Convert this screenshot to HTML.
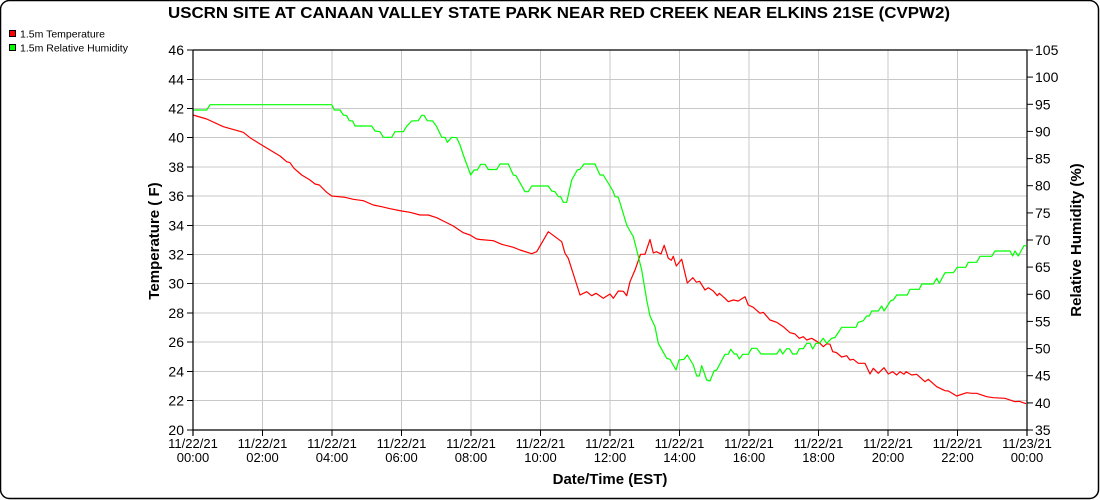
<!DOCTYPE html>
<html><head><meta charset="utf-8"><style>
html,body{margin:0;padding:0;background:#fff;}
svg{display:block;font-family:"Liberation Sans",Arial,sans-serif;}
</style></head><body>
<svg width="1100" height="500" viewBox="0 0 1100 500" xmlns="http://www.w3.org/2000/svg">
<rect x="0.5" y="0.5" width="1098" height="498" rx="9" ry="9" fill="#fff" stroke="#000" stroke-width="1.5"/>
<text x="559" y="18" font-size="16" font-weight="bold" text-anchor="middle" textLength="782" lengthAdjust="spacingAndGlyphs">USCRN SITE AT CANAAN VALLEY STATE PARK NEAR RED CREEK NEAR ELKINS 21SE (CVPW2)</text>
<rect x="9.5" y="30.5" width="6" height="6" fill="#ff0000" stroke="#000" stroke-width="1"/>
<text x="20" y="37.5" font-size="10.5">1.5m Temperature</text>
<rect x="9.5" y="44.5" width="6" height="6" fill="#00ff00" stroke="#000" stroke-width="1"/>
<text x="20" y="51.5" font-size="10.5">1.5m Relative Humidity</text>
<g stroke="#c8c8c8" stroke-width="1">
<line x1="262.5" y1="50" x2="262.5" y2="430"/><line x1="332" y1="50" x2="332" y2="430"/><line x1="401.5" y1="50" x2="401.5" y2="430"/><line x1="471" y1="50" x2="471" y2="430"/><line x1="540.5" y1="50" x2="540.5" y2="430"/><line x1="610" y1="50" x2="610" y2="430"/><line x1="679.5" y1="50" x2="679.5" y2="430"/><line x1="749" y1="50" x2="749" y2="430"/><line x1="818.5" y1="50" x2="818.5" y2="430"/><line x1="888" y1="50" x2="888" y2="430"/><line x1="957.5" y1="50" x2="957.5" y2="430"/>
<line x1="193" y1="79.5" x2="1027" y2="79.5"/><line x1="193" y1="108.5" x2="1027" y2="108.5"/><line x1="193" y1="137.5" x2="1027" y2="137.5"/><line x1="193" y1="167" x2="1027" y2="167"/><line x1="193" y1="196" x2="1027" y2="196"/><line x1="193" y1="225.5" x2="1027" y2="225.5"/><line x1="193" y1="254.5" x2="1027" y2="254.5"/><line x1="193" y1="283.5" x2="1027" y2="283.5"/><line x1="193" y1="313" x2="1027" y2="313"/><line x1="193" y1="342" x2="1027" y2="342"/><line x1="193" y1="371.5" x2="1027" y2="371.5"/><line x1="193" y1="400.5" x2="1027" y2="400.5"/>
</g>
<polyline fill="none" stroke="#ff0000" stroke-width="1.2" stroke-linejoin="round" points="193,115 206.7,119 223.3,126.7 243.3,132.3 250,137.7 261.7,145 270,150 280,156 286.7,161.7 290,162.7 294,168.3 301.7,175 310,180 315,184 319.3,185 326.7,192.3 331.7,196 345,197.3 353.3,199.3 363.3,200.7 373.3,205 381.7,206.7 390,208.7 401.7,211 410,212.3 420,215 428.3,215 436.7,217.7 443.3,221 453.3,226 463.3,232.7 470,235 476.7,239 480,239.5 493.3,240.7 501.7,244.3 513.3,247.3 520,250 531.7,253.7 536.7,251.7 548.3,231.7 561.7,241.7 565,253.3 568.3,258.3 580,295 586.7,291.7 591.7,295.7 596,293.3 603.3,298.3 610,294 613.3,298.3 618.3,291 623.3,291.3 626.7,295.7 630,281.7 635,270 640.5,254.3 645,254.3 650,239.5 653.3,253 656.5,251.7 661,254 664.2,245.3 668.3,258.3 671.3,260.3 673.3,256.3 676.3,266 681.7,259.2 687.3,283 692.9,277.7 696.3,282.2 699.6,281.3 705,290 708.3,287.7 713.3,291 717.3,295.7 719.3,293.3 725,298.3 728.3,301.7 733.3,300 738.3,301 745,296.7 748.3,305 753.3,307.3 760,313.3 763.3,312.3 770,320 776.7,322.3 783.3,326.7 790,332.7 795,334 799.3,338.3 803.3,336.7 806.7,340 811.7,338.3 820,343.3 823.3,346.7 826.7,343.8 830,344.2 832.7,351.7 836.3,352.5 841.7,357 846.7,355.7 850,360 853.3,359.3 858.3,363.3 865,363.3 870,374 873.3,368.3 878.3,373.3 884,367.7 888.3,374 892.7,371.7 896.7,375 900,371.7 904,374.3 906,371.7 911.7,375 916.7,374.3 925,381.7 928.3,379.3 936.7,386.7 945,390.7 948.3,391 956.7,396 966.7,392.7 971.7,393.3 976.7,393.3 986.7,396.7 993.3,397.7 1005,398.3 1015,401.7 1019.3,401.3 1026,403.7"/>
<polyline fill="none" stroke="#00ff00" stroke-width="1.2" stroke-linejoin="round" points="193,110 206.7,110 210,104.7 331.7,104.7 334.3,110 340,110 343.3,115 346.7,115.7 349.3,120.7 352.7,121 355,126 371.7,126 375,131 380,131.7 383.3,137.3 391.7,137.3 395,131.7 403.3,131.7 406.7,126.3 411.7,121 418.3,120.7 421.7,115.3 424,115.3 427.3,120.7 432.7,121 436.7,126.7 441.7,137.3 445,137.3 447.3,142.3 451.7,137.3 456.7,137.7 460,145 463.3,155 470.7,175 474,170 477.3,170 480.7,164.3 485,164.3 488.3,169.5 496.7,169.5 500,164 508.3,164 513.3,175 516,175.7 525,191.7 528.3,191.7 531.7,186 548.3,186 551.7,191 555,191.7 558.3,196.7 560.7,196.7 563.3,202.3 566.7,202.3 571.7,180 577.3,170 580,169.3 584,164 595,164 600,175 603.3,175 610,186 613.3,191.7 615,196.7 618.3,197.3 621.7,208.3 626.7,225 630,231 633.3,236.7 636.7,250 641.7,270 646.7,300 650,316 655,326.7 658.3,343.3 666.7,358.3 670,359.3 676,370 679,360 684,359.3 687.3,355 693.3,365 696.7,376 699.3,376 701.7,365.7 706.7,380 710,381 714,371 716.7,370 725,354.3 728.3,354.3 730.7,349.3 734.3,354 736.7,354 739.3,359 742.7,354.3 748.3,354.3 751.7,348.3 756.7,348.3 761,354 776.7,354 780,349 782.7,354 786.7,348.7 789.3,348.7 792.7,354 796.7,354 799.3,348.7 803.3,348.7 806.7,343.3 810,343.3 812.7,349 816,343.3 819.3,343.3 823.3,338.3 826.7,343.3 831.7,338.3 835,337.5 841.7,327.3 856,327.3 858.3,322.3 863.3,320.7 866.7,316 869.3,316 871.7,311 878.3,311 881.7,306 884,311 887.3,306 890.7,300.7 893.3,300 896.7,295 907.3,295 910,289.3 919.3,289.3 921.7,284 933.3,284 936.7,278.3 939.3,283.3 945,272.7 953.3,272.7 957.3,267.3 965.7,267.3 968.3,262.3 976.7,262.3 980,256.3 991.7,256.3 995,251 1010,251 1012.7,256 1015,251 1018.3,256 1021,251 1024,245.7 1026,245.7"/>
<g stroke="#000" stroke-width="1.2" fill="none">
<line x1="193" y1="50" x2="1027" y2="50"/>
<line x1="193" y1="430" x2="1027" y2="430"/>
<line x1="193" y1="50" x2="193" y2="436"/>
<line x1="1027" y1="50" x2="1027" y2="436"/>
</g>
<g stroke="#000" stroke-width="1">
<line x1="187" y1="50" x2="193" y2="50"/><line x1="187" y1="79.5" x2="193" y2="79.5"/><line x1="187" y1="108.5" x2="193" y2="108.5"/><line x1="187" y1="137.5" x2="193" y2="137.5"/><line x1="187" y1="167" x2="193" y2="167"/><line x1="187" y1="196" x2="193" y2="196"/><line x1="187" y1="225.5" x2="193" y2="225.5"/><line x1="187" y1="254.5" x2="193" y2="254.5"/><line x1="187" y1="283.5" x2="193" y2="283.5"/><line x1="187" y1="313" x2="193" y2="313"/><line x1="187" y1="342" x2="193" y2="342"/><line x1="187" y1="371.5" x2="193" y2="371.5"/><line x1="187" y1="400.5" x2="193" y2="400.5"/><line x1="187" y1="430" x2="193" y2="430"/>
<line x1="1027" y1="50" x2="1033" y2="50"/><line x1="1027" y1="77.1" x2="1033" y2="77.1"/><line x1="1027" y1="104.3" x2="1033" y2="104.3"/><line x1="1027" y1="131.4" x2="1033" y2="131.4"/><line x1="1027" y1="158.6" x2="1033" y2="158.6"/><line x1="1027" y1="185.7" x2="1033" y2="185.7"/><line x1="1027" y1="212.9" x2="1033" y2="212.9"/><line x1="1027" y1="240" x2="1033" y2="240"/><line x1="1027" y1="267.1" x2="1033" y2="267.1"/><line x1="1027" y1="294.3" x2="1033" y2="294.3"/><line x1="1027" y1="321.4" x2="1033" y2="321.4"/><line x1="1027" y1="348.6" x2="1033" y2="348.6"/><line x1="1027" y1="375.7" x2="1033" y2="375.7"/><line x1="1027" y1="402.9" x2="1033" y2="402.9"/><line x1="1027" y1="430" x2="1033" y2="430"/>
<line x1="193" y1="430" x2="193" y2="436"/><line x1="262.5" y1="430" x2="262.5" y2="436"/><line x1="332" y1="430" x2="332" y2="436"/><line x1="401.5" y1="430" x2="401.5" y2="436"/><line x1="471" y1="430" x2="471" y2="436"/><line x1="540.5" y1="430" x2="540.5" y2="436"/><line x1="610" y1="430" x2="610" y2="436"/><line x1="679.5" y1="430" x2="679.5" y2="436"/><line x1="749" y1="430" x2="749" y2="436"/><line x1="818.5" y1="430" x2="818.5" y2="436"/><line x1="888" y1="430" x2="888" y2="436"/><line x1="957.5" y1="430" x2="957.5" y2="436"/><line x1="1027" y1="430" x2="1027" y2="436"/>
</g>
<g font-size="14" text-anchor="end">
<text x="184" y="55">46</text><text x="184" y="84.5">44</text><text x="184" y="113.5">42</text><text x="184" y="142.5">40</text><text x="184" y="172">38</text><text x="184" y="201">36</text><text x="184" y="230.5">34</text><text x="184" y="259.5">32</text><text x="184" y="288.5">30</text><text x="184" y="318">28</text><text x="184" y="347">26</text><text x="184" y="376.5">24</text><text x="184" y="405.5">22</text><text x="184" y="435">20</text>
</g>
<g font-size="14" text-anchor="start">
<text x="1035" y="55">105</text><text x="1035" y="82.1">100</text><text x="1035" y="109.3">95</text><text x="1035" y="136.4">90</text><text x="1035" y="163.6">85</text><text x="1035" y="190.7">80</text><text x="1035" y="217.9">75</text><text x="1035" y="245">70</text><text x="1035" y="272.1">65</text><text x="1035" y="299.3">60</text><text x="1035" y="326.4">55</text><text x="1035" y="353.6">50</text><text x="1035" y="380.7">45</text><text x="1035" y="407.9">40</text><text x="1035" y="435">35</text>
</g>
<g font-size="13" text-anchor="middle">
<text x="193" y="448">11/22/21</text><text x="193" y="462">00:00</text>
<text x="262.5" y="448">11/22/21</text><text x="262.5" y="462">02:00</text>
<text x="332" y="448">11/22/21</text><text x="332" y="462">04:00</text>
<text x="401.5" y="448">11/22/21</text><text x="401.5" y="462">06:00</text>
<text x="471" y="448">11/22/21</text><text x="471" y="462">08:00</text>
<text x="540.5" y="448">11/22/21</text><text x="540.5" y="462">10:00</text>
<text x="610" y="448">11/22/21</text><text x="610" y="462">12:00</text>
<text x="679.5" y="448">11/22/21</text><text x="679.5" y="462">14:00</text>
<text x="749" y="448">11/22/21</text><text x="749" y="462">16:00</text>
<text x="818.5" y="448">11/22/21</text><text x="818.5" y="462">18:00</text>
<text x="888" y="448">11/22/21</text><text x="888" y="462">20:00</text>
<text x="957.5" y="448">11/22/21</text><text x="957.5" y="462">22:00</text>
<text x="1027" y="448">11/23/21</text><text x="1027" y="462">00:00</text>
</g>
<text x="610" y="484" font-size="15" font-weight="bold" text-anchor="middle">Date/Time (EST)</text>
<text transform="translate(159,241) rotate(-90)" font-size="15" font-weight="bold" text-anchor="middle">Temperature ( F)</text>
<text transform="translate(1081,240) rotate(-90)" font-size="15" font-weight="bold" text-anchor="middle">Relative Humidity (%)</text>
</svg>
</body></html>
